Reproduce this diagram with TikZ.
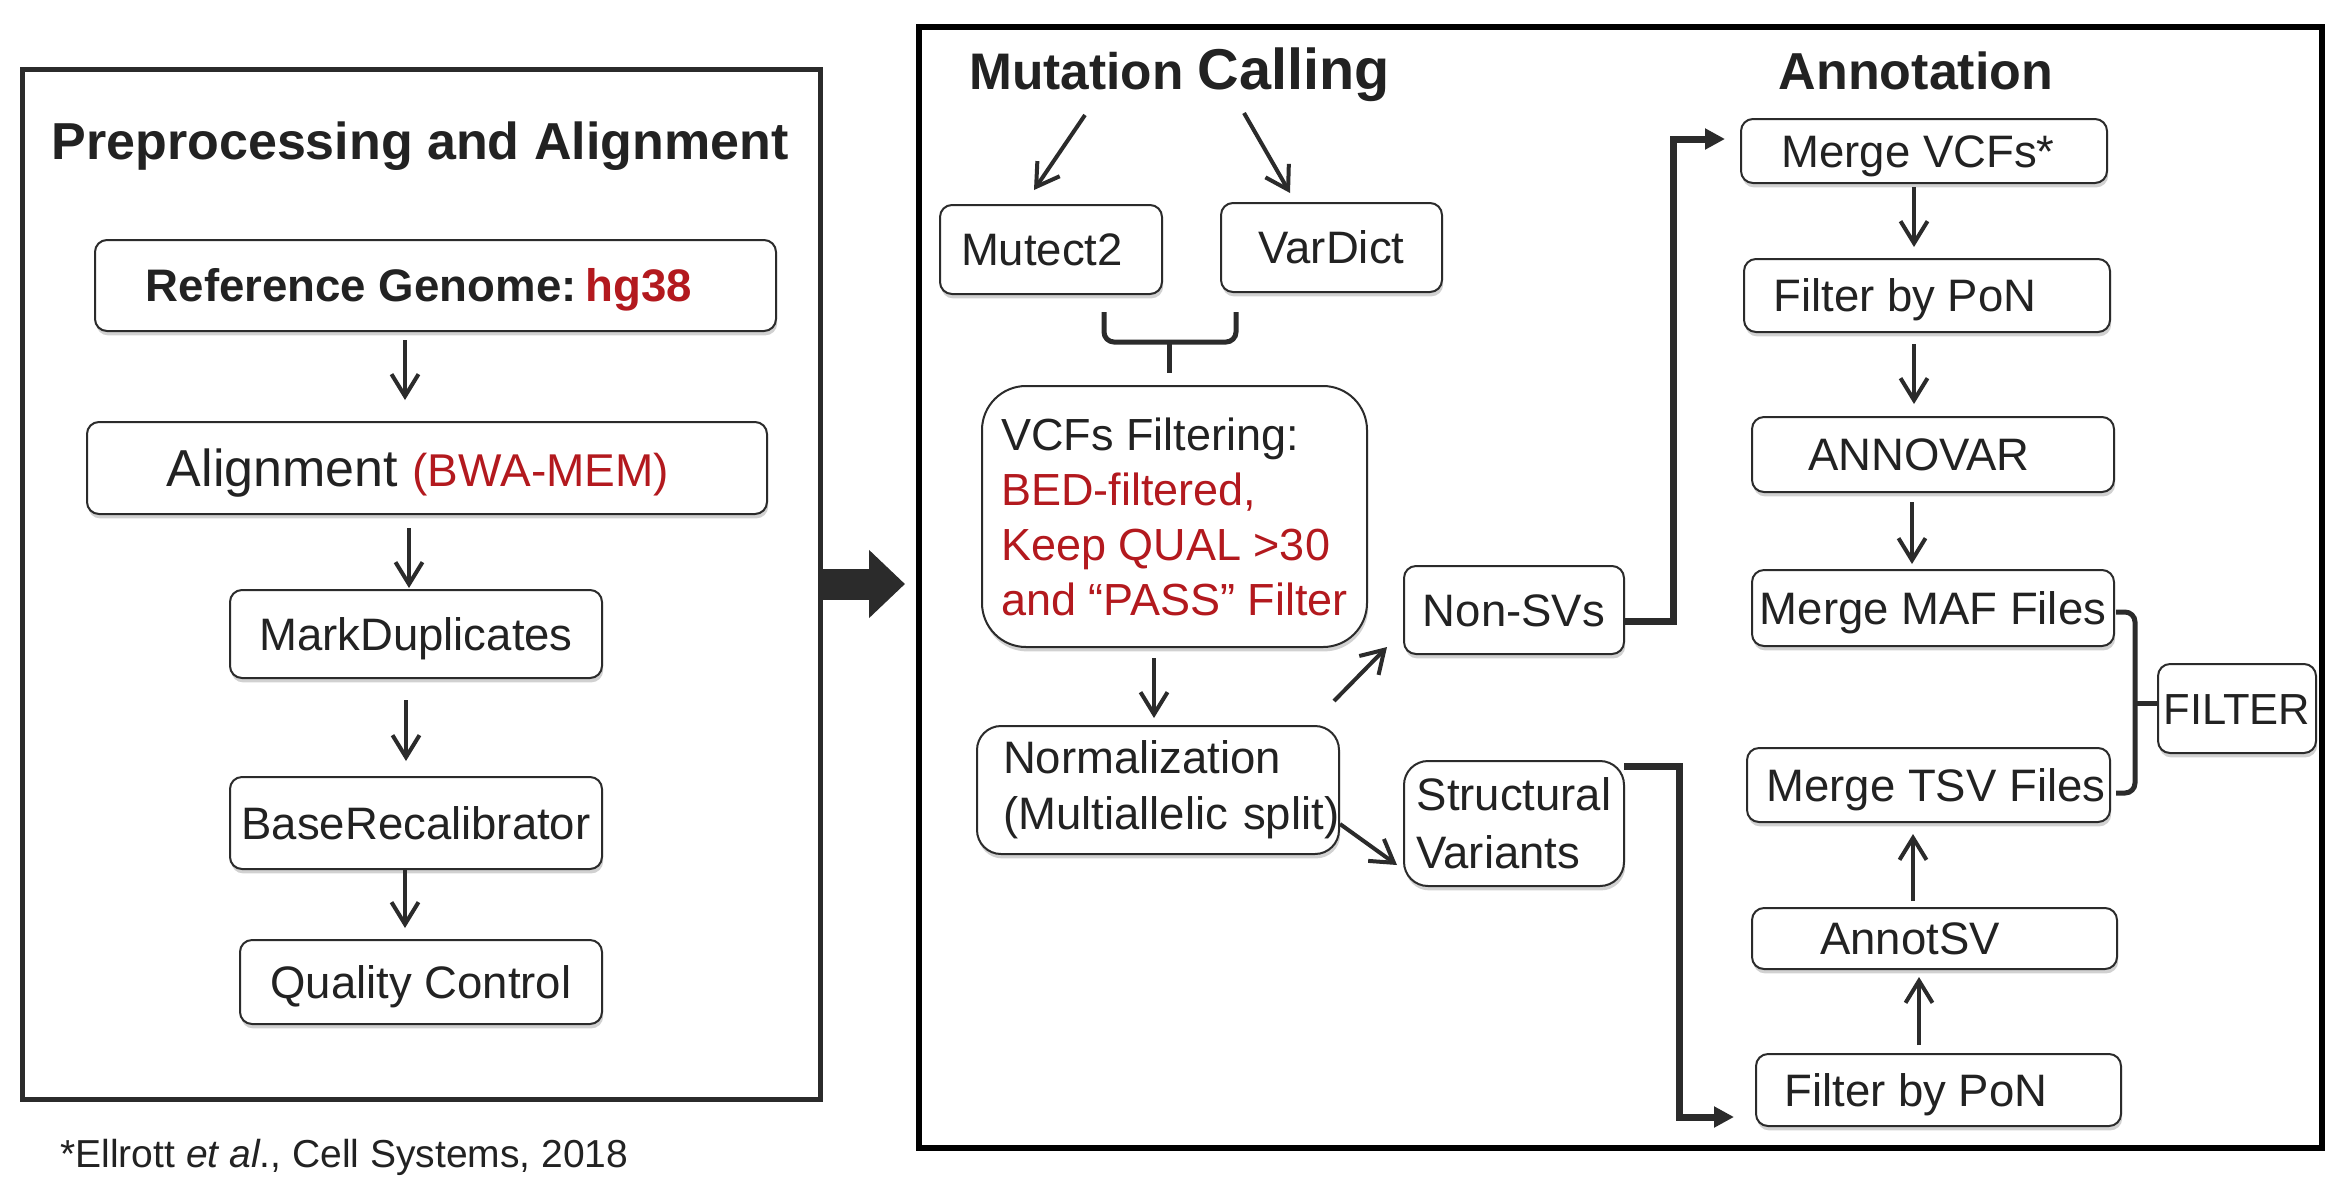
\documentclass[tikz,border=0pt]{standalone}
\usepackage{fontspec}
\setmainfont{Liberation Sans}
\usetikzlibrary{arrows.meta,calc,shadows}
\definecolor{ink}{HTML}{222222}
\definecolor{lne}{HTML}{2B2B2B}
\definecolor{redtx}{HTML}{B3191E}
\tikzset{
  box/.style={draw=lne, line width=1pt, rounded corners=6pt, fill=white, inner sep=0pt, outer sep=0pt,
    text=ink, font=\fontsize{22.75}{27}\selectfont,
    drop shadow={shadow xshift=0.6pt, shadow yshift=-2.2pt, opacity=0.18, fill=black}},
  one/.style={text height=16.3pt, text depth=0pt},
  panel/.style={inner sep=0pt, outer sep=0pt, fill=none},
  ttl/.style={inner sep=0pt, text=ink, font=\bfseries\fontsize{26}{30}\selectfont},
  arr/.style={draw=lne, line width=2pt, -{Straight Barb[length=11pt,width=13.5pt]}},
  thk/.style={draw=lne, line width=3.5pt, -{Triangle[length=10pt,width=10pt]}},
  brk/.style={draw=lne, line width=2.5pt, rounded corners=5pt}
}
\begin{document}
\begin{tikzpicture}[x=0.5pt,y=-0.5pt]
\fill[white] (0,0) rectangle (2338,1200);
\useasboundingbox (0,0) rectangle (2338,1200);

% panels
\node[panel, draw=lne, line width=2.5pt, minimum width=399pt, minimum height=515pt] (lp) at (421,584) {};
\node[panel, draw=black, line width=3pt, minimum width=701.5pt, minimum height=560.5pt] (rp) at (1620.5,587.5) {};

% titles
\node[ttl, anchor=base] (t1) at (420,159) {Preprocessing and Alignment};
\node[ttl, anchor=base west, font=\bfseries] (t2) at (969,89) {\fontsize{25.7}{30}\selectfont Mutation \fontsize{28.8}{32}\selectfont Calling};
\node[ttl, anchor=base] (t3) at (1916,89) {Annotation};
\node[anchor=base west, inner sep=0pt, text=ink, font=\fontsize{19.5}{23}\selectfont] (fn) at (60,1167) {*Ellrott \textit{et al}., Cell Systems, 2018};

% left panel boxes
\node[box, one, font=\bfseries\fontsize{22.8}{27}\selectfont, minimum width=340.5pt, minimum height=45.5pt] (ref) at (435.5,285.5) {Reference Genome:\hspace{0.2em}\textcolor{redtx}{hg38}\hspace*{16.5pt}};
\node[box, text height=18.6pt, text depth=0pt, minimum width=340pt, minimum height=46pt] (aln) at (427,468) {\fontsize{26}{30}\selectfont Alignment \fontsize{23}{27}\selectfont\textcolor{redtx}{(BWA-MEM)}\hspace*{9pt}};
\node[box, one, minimum width=186pt, minimum height=44pt] (md) at (416,634) {MarkDuplicates};
\node[box, one, minimum width=186pt, minimum height=46pt] (br) at (416,823) {BaseRecalibrator};
\node[box, one, minimum width=181pt, minimum height=42pt] (qc) at (421,982) {Quality Control};

% mutation calling
\coordinate (mcL) at (1085,115);
\coordinate (mcR) at (1244,113);
\node[box, one, minimum width=111pt, minimum height=44.5pt] (mt) at (1051,249.5) {Mutect2\hspace*{9pt}};
\node[box, one, minimum width=110.5pt, minimum height=44.5pt] (vd) at (1331.5,247.5) {VarDict};
\node[box, align=left, rounded corners=22pt, minimum width=192.5pt, minimum height=130.5pt, font=\fontsize{22.5}{27.5}\selectfont] (vcf) at (1174.5,516.5)
  {VCFs Filtering:\\ \textcolor{redtx}{BED-filtered,}\\ \textcolor{redtx}{Keep QUAL >30}\\ \textcolor{redtx}{and “PASS” Filter}};
\node[box, align=left, text width=155pt, rounded corners=12pt, minimum width=181pt, minimum height=64pt, font=\fontsize{22.75}{28}\selectfont] (norm) at (1158,790) {Normalization\\\mbox{(Multiallelic split)}};
\node[box, one, minimum width=110pt, minimum height=44pt] (nonsv) at (1514,610) {Non-SVs};
\node[box, align=left, rounded corners=12pt, minimum width=110pt, minimum height=62.5pt, font=\fontsize{22.75}{29}\selectfont] (sv) at (1514,823.5) {Structural\\Variants};

% annotation
\node[box, one, minimum width=183pt, minimum height=32pt] (mv) at (1924,151) {Merge VCFs*\hspace*{6pt}};
\node[box, one, minimum width=183pt, minimum height=36.5pt] (fp1) at (1927,295.5) {Filter by PoN\hspace*{22pt}};
\node[box, one, minimum width=181pt, minimum height=37.5pt] (anv) at (1933,454.5) {ANNOVAR\hspace*{14pt}};
\node[box, one, minimum width=181pt, minimum height=38pt] (maf) at (1933,608) {Merge MAF Files};
\node[box, one, minimum width=181.5pt, minimum height=37pt] (tsv) at (1928.5,785) {\hspace*{7.5pt}Merge TSV Files};
\node[box, one, minimum width=182.5pt, minimum height=30.5pt] (ast) at (1934.5,938.5) {AnnotSV\hspace*{24.5pt}};
\node[box, one, minimum width=182.5pt, minimum height=36pt] (fp2) at (1938.5,1090) {Filter by PoN\hspace*{22.5pt}};
\node[box, text height=15.6pt, text depth=0pt, font=\fontsize{21.75}{26}\selectfont, minimum width=79pt, minimum height=44.5pt] (flt) at (2237,708.5) {FILTER};

% left arrows
\draw[arr] ($(ref.south)+(-30.5,9)$) -- ($(aln.north)+(-22,-22)$);
\draw[arr] ($(aln.south)+(-18,14)$) -- ($(md.north)+(-7,-2)$);
\draw[arr] ($(md.south)+(-10,22)$) -- ($(br.north)+(-10,-16)$);
\draw[arr] ($(br.south)+(-11,0)$) -- ($(qc.north)+(-16,-12)$);

% big arrow
\draw[lne, line width=15.5pt, -{Triangle[length=18pt,width=33pt]}, shorten >=7pt] (lp.east) -- (lp.east -| rp.west);

% mutation calling arrows
\draw[arr] (mcL) -- ($(mt.north)+(-17,-15)$);
\draw[arr] (mcR) -- ($(vd.north)+(-41.5,-10)$);
\draw[brk] ($(mt.south)+(53,18)$) |- ($(vd.south)+(-95.5,50)$) -- ($(vd.south)+(-95.5,20)$);
\draw[brk] ($(vcf.north)+(-5.5,-44)$) -- ($(vcf.north)+(-5.5,-13)$);
\draw[arr] ($(vcf.south)+(-20.5,11)$) -- ($(norm.north)+(-4,-8)$);
\draw[arr] ($(norm.north east)+(-5,-25)$) -- ($(nonsv.south west)+(-17,-7)$);
\draw[arr] ($(norm.east)+(1,34)$) -- ($(sv.west)+(-7,41.5)$);

% thick connectors
\draw[thk] ($(nonsv.east)+(0,11)$) -- ++(49,0) |- ($(mv.west)+(-16,-12)$);
\draw[thk] ($(sv.north east)+(0,5)$) -- ++(55,0) |- ($(fp2.west)+(-22,27)$);

% annotation arrows
\draw[arr] ($(mv.south)+(-10,4)$) -- ($(fp1.north)+(-13,-12)$);
\draw[arr] ($(fp1.south)+(-13,12)$) -- ($(anv.north)+(-19,-13)$);
\draw[arr] ($(anv.south)+(-21,10)$) -- ($(maf.north)+(-21,-6)$);
\draw[arr] ($(ast.north)+(-21.5,-7)$) -- ($(tsv.south)+(-15.5,12)$);
\draw[arr] ($(fp2.north)+(-19.5,-9)$) -- ($(ast.south)+(-15.5,8)$);

% filter bracket
\draw[brk] ($(maf.east)+(2,4)$) -- ++(19,0) |- ($(tsv.east)+(6,8)$);
\draw[brk] ($(flt.west)+(-23,-5.5)$) -- ($(flt.west)+(0,-5.5)$);
\end{tikzpicture}
\end{document}
